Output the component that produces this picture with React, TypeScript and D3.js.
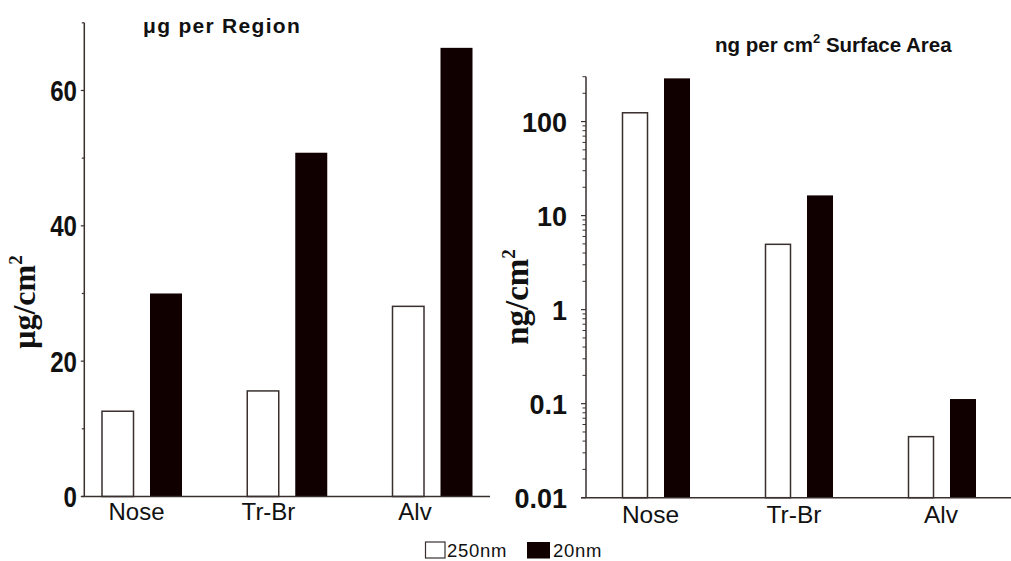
import React from "react";
import * as d3 from "d3";

const categories = ["Nose", "Tr-Br", "Alv"];
const seriesNames = ["250nm", "20nm"];
const leftSmall = [12.6, 15.6, 28.1];
const leftLarge = [30, 50.8, 66.3];
const rightSmall = [124, 4.95, 0.0446];
const rightLarge = [288, 16.4, 0.112];
const leftMajorTicks = [0, 20, 40, 60];
const leftMinorTicks = [10, 30, 50, 70];
const rightMajorTicks = [0.01, 0.1, 1, 10, 100];
const rightTickLabels = ["0.01", "0.1", "1", "10", "100"];

const AXIS = "#3a2f2f";
const DARK = "#100000";
const TXT = "#111";

export default function App() {
  React.useEffect(() => {
    document.body.style.margin = "0";
  }, []);

  // Left chart scales
  const yL = d3.scaleLinear().domain([0, 70]).range([496.5, 22.8]);
  const xL = d3.scalePoint<string>().domain(categories).range([142, 432.5]);
  const leftLabelX = [136.5, 268.5, 415];

  // Right chart scales
  const yR = d3.scaleLog().domain([0.01, 300]).range([497.7, 76.7]);
  const xR = d3.scalePoint<string>().domain(categories).range([656, 942]);
  const rightLabelX = [650.5, 794, 941];

  const rightMinor: number[] = [];
  [0.01, 0.1, 1, 10, 100].forEach((dec) => {
    for (let k = 2; k <= 9; k++) {
      const v = dec * k;
      if (v <= 300.0001) rightMinor.push(v);
    }
  });

  const axisLeftX = 84.3;
  const axisRightX = 586;

  return (
    <svg
      width={1011}
      height={561}
      style={{ position: "absolute", left: 0, top: 0, display: "block", background: "#fff" }}
    >
      {/* LEFT CHART */}
      <g>
        {categories.map((c, i) => (
          <g key={"lb" + c}>
            <rect
              x={xL(c)! - 40}
              y={yL(leftSmall[i])}
              width={31.5}
              height={yL(0) - yL(leftSmall[i])}
              fill="#fff"
              stroke={AXIS}
              strokeWidth={1.5}
            />
            <rect
              x={xL(c)! + 8}
              y={yL(leftLarge[i])}
              width={32}
              height={yL(0) - yL(leftLarge[i])}
              fill={DARK}
            />
          </g>
        ))}
        <line x1={axisLeftX} x2={axisLeftX} y1={yL(70)} y2={yL(0)} stroke={AXIS} strokeWidth={1.5} />
        <line x1={81.5} x2={490} y1={yL(0)} y2={yL(0)} stroke={AXIS} strokeWidth={1.5} />
        {leftMajorTicks.map((t) => (
          <g key={"lt" + t}>
            <line x1={axisLeftX - 3.5} x2={axisLeftX} y1={yL(t)} y2={yL(t)} stroke={AXIS} strokeWidth={1.2} />
            <g transform={`translate(77,${yL(t) + 10.5}) scale(0.86,1.04)`}>
              <text textAnchor="end" fontFamily="Liberation Sans, Arial, sans-serif" fontWeight="bold" fontSize={28} fill={TXT}>
                {t}
              </text>
            </g>
          </g>
        ))}
        {leftMinorTicks.map((t) => (
          <line key={"lm" + t} x1={axisLeftX - 2.5} x2={axisLeftX} y1={yL(t)} y2={yL(t)} stroke={AXIS} strokeWidth={1.2} />
        ))}
        {categories.map((c, i) => (
          <text
            key={"lx" + c}
            x={leftLabelX[i]}
            y={520}
            textAnchor="middle"
            fontFamily="Liberation Sans, Arial, sans-serif"
            fontSize={24}
            fill={TXT}
          >
            {c}
          </text>
        ))}
        <text
          x={143}
          y={33}
          fontFamily="Liberation Sans, Arial, sans-serif"
          fontWeight="bold"
          fontSize={21}
          letterSpacing={1.3}
          fill={TXT}
        >
          μg per Region
        </text>
        <text
          transform="translate(35,302) rotate(-90)"
          textAnchor="middle"
          fontFamily="Liberation Serif, Times New Roman, serif"
          fontWeight="bold"
          fontSize={32}
          fill={TXT}
        >
          μg/cm
          <tspan fontSize={19} dy={-13}>2</tspan>
        </text>
      </g>

      {/* RIGHT CHART */}
      <g>
        {categories.map((c, i) => (
          <g key={"rb" + c}>
            <rect
              x={xR(c)! - 33.5}
              y={yR(rightSmall[i])}
              width={25}
              height={yR(0.01) - yR(rightSmall[i])}
              fill="#fff"
              stroke={AXIS}
              strokeWidth={1.5}
            />
            <rect
              x={xR(c)! + 8}
              y={yR(rightLarge[i])}
              width={26}
              height={yR(0.01) - yR(rightLarge[i])}
              fill={DARK}
            />
          </g>
        ))}
        <line x1={axisRightX} x2={axisRightX} y1={yR(300)} y2={yR(0.01)} stroke={AXIS} strokeWidth={1.5} />
        <line x1={581} x2={1011} y1={yR(0.01)} y2={yR(0.01)} stroke={AXIS} strokeWidth={1.5} />
        {rightMinor.map((t) => (
          <line key={"rm" + t} x1={axisRightX - 3.5} x2={axisRightX} y1={yR(t)} y2={yR(t)} stroke={AXIS} strokeWidth={1} />
        ))}
        {rightMajorTicks.map((t, i) => (
          <g key={"rt" + t}>
            <line x1={axisRightX - 5} x2={axisRightX} y1={yR(t)} y2={yR(t)} stroke={AXIS} strokeWidth={1.2} />
            <text
              x={567}
              y={yR(t) + 10}
              textAnchor="end"
              fontFamily="Liberation Sans, Arial, sans-serif"
              fontWeight="bold"
              fontSize={27}
              fill={TXT}
            >
              {rightTickLabels[i]}
            </text>
          </g>
        ))}
        {categories.map((c, i) => (
          <text
            key={"rx" + c}
            x={rightLabelX[i]}
            y={523}
            textAnchor="middle"
            fontFamily="Liberation Sans, Arial, sans-serif"
            fontSize={24.5}
            fill={TXT}
          >
            {c}
          </text>
        ))}
        <text
          x={715}
          y={51.7}
          fontFamily="Liberation Sans, Arial, sans-serif"
          fontWeight="bold"
          fontSize={20.5}
          fill={TXT}
        >
          ng per cm
          <tspan fontSize={13} dy={-9}>2</tspan>
          <tspan dy={9}> Surface Area</tspan>
        </text>
        <text
          transform="translate(528,297) rotate(-90)"
          textAnchor="middle"
          fontFamily="Liberation Serif, Times New Roman, serif"
          fontWeight="bold"
          fontSize={33}
          fill={TXT}
        >
          ng/cm
          <tspan fontSize={19} dy={-13}>2</tspan>
        </text>
      </g>

      {/* LEGEND */}
      <g>
        <rect x={425.5} y={542} width={19.5} height={16} fill="#fff" stroke={AXIS} strokeWidth={1.2} />
        <text x={447} y={557} fontFamily="Liberation Sans, Arial, sans-serif" fontSize={18.5} letterSpacing={0.7} fill={TXT}>
          {seriesNames[0]}
        </text>
        <rect x={527} y={542} width={23} height={16.5} fill={DARK} />
        <text x={553} y={557} fontFamily="Liberation Sans, Arial, sans-serif" fontSize={18.5} letterSpacing={0.7} fill={TXT}>
          {seriesNames[1]}
        </text>
      </g>
    </svg>
  );
}
